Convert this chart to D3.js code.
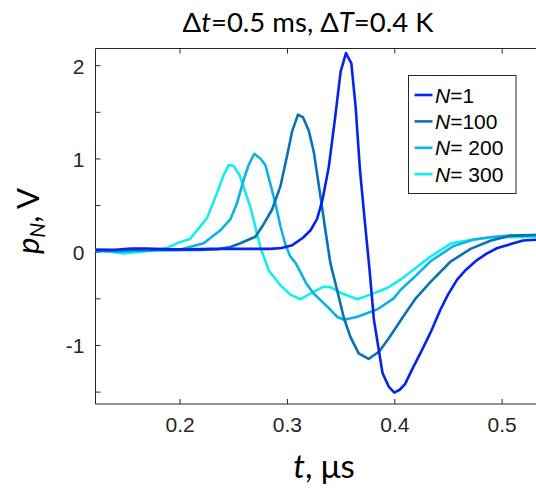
<!DOCTYPE html>
<html><head><meta charset="utf-8">
<script src="https://cdn.jsdelivr.net/npm/d3@7"></script>
<style>body{margin:0;background:#fff;overflow:hidden}</style>
</head><body>
<svg id="c" width="536" height="488"></svg>
<script>
// ---- data ----
const legendLabels = ["1", "100", " 200", " 300"];
const xTicks = [0.2, 0.3, 0.4, 0.5];
const yTicks = [-1.5, -1, -0.5, 0, 0.5, 1, 1.5, 2];
const yTickLabels = ["", "-1", "", "0", "", "1", "", "2"];

const tN1 = [0.12,0.14,0.155,0.17,0.19,0.21,0.23,0.25,0.27,0.285,0.295,0.305,0.315,0.322,0.328,0.333,0.339,0.345,0.350,0.355,0.360,0.364,0.368,0.373,0.377,0.381,0.3855,0.389,0.395,0.400,0.405,0.410,0.418,0.426,0.434,0.443,0.450,0.4585,0.467,0.477,0.486,0.496,0.505,0.511,0.520,0.535];
const vN1 = [0.02,0.02,0.035,0.035,0.025,0.025,0.03,0.03,0.03,0.03,0.04,0.07,0.15,0.23,0.35,0.55,0.91,1.45,1.93,2.13,2.02,1.55,0.88,0.27,-0.2,-0.73,-1.05,-1.30,-1.45,-1.51,-1.48,-1.42,-1.23,-1.05,-0.86,-0.62,-0.46,-0.30,-0.19,-0.09,-0.02,0.04,0.07,0.09,0.12,0.13];

const tN100 = [0.12,0.14,0.16,0.18,0.20,0.22,0.235,0.2474,0.2566,0.2706,0.278,0.2861,0.2939,0.300,0.3048,0.3103,0.315,0.3203,0.325,0.328,0.3318,0.3358,0.3404,0.3467,0.3528,0.359,0.3668,0.376,0.386,0.396,0.408,0.420,0.434,0.452,0.471,0.490,0.508,0.535];
const vN100 = [0.02,0.015,0.02,0.02,0.02,0.02,0.026,0.05,0.09,0.16,0.29,0.45,0.70,1.02,1.29,1.47,1.44,1.30,1.07,0.84,0.55,0.23,-0.12,-0.41,-0.70,-0.91,-1.09,-1.15,-1.07,-0.91,-0.70,-0.50,-0.32,-0.11,0.03,0.12,0.17,0.18];

const tN200 = [0.12,0.14,0.16,0.18,0.20,0.2224,0.238,0.2474,0.2535,0.2597,0.2643,0.2696,0.2752,0.2799,0.2845,0.2892,0.294,0.2985,0.303,0.308,0.318,0.325,0.3404,0.347,0.353,0.365,0.384,0.3995,0.4057,0.418,0.434,0.455,0.474,0.493,0.51,0.535];
const vN200 = [0.01,0.0,0.01,0.015,0.02,0.09,0.23,0.35,0.52,0.77,0.93,1.05,1.0,0.93,0.73,0.52,0.27,0.08,-0.05,-0.12,-0.34,-0.45,-0.62,-0.70,-0.73,-0.70,-0.62,-0.50,-0.41,-0.28,-0.10,0.06,0.13,0.16,0.175,0.18];

const tN300 = [0.12,0.13,0.1476,0.165,0.178,0.188,0.1976,0.21,0.2255,0.2349,0.241,0.2457,0.2503,0.256,0.2659,0.2752,0.283,0.2939,0.3032,0.3125,0.3218,0.334,0.3404,0.3498,0.3653,0.3777,0.3933,0.4057,0.418,0.434,0.453,0.468,0.4896,0.535];
const vN300 = [0.02,0.01,-0.02,0.0,0.02,0.04,0.09,0.14,0.36,0.63,0.82,0.93,0.92,0.82,0.48,0.05,-0.2,-0.36,-0.46,-0.51,-0.45,-0.375,-0.38,-0.44,-0.51,-0.46,-0.39,-0.30,-0.19,-0.05,0.09,0.12,0.155,0.16];

const seriesT = [tN1, tN100, tN200, tN300];
const seriesV = [vN1, vN100, vN200, vN300];
const colors = ["#0623ee", "#0a71b8", "#0bb2e6", "#10eef3"];

// ---- layout ----
const svg = d3.select("#c");
const L = 95.5, R = 537, T = 48.5, B = 404;
const x = d3.scaleLinear().domain([0.1217, 0.5329]).range([L, R]);
const y = d3.scaleLinear().domain([-1.633, 2.179]).range([B, T]);
const ink = "#262626";
const tickFont = "Liberation Sans, Arial, sans-serif";

svg.append("defs").append("clipPath").attr("id", "clip")
  .append("rect").attr("x", L).attr("y", T).attr("width", R - L).attr("height", B - T);

const xAxis = svg.append("g").attr("transform", `translate(0,${B})`)
  .call(d3.axisBottom(x).tickValues(xTicks).tickSize(-5).tickPadding(13).tickFormat(d3.format(".1f")));
const xAxisTop = svg.append("g").attr("transform", `translate(0,${T})`)
  .call(d3.axisTop(x).tickValues(xTicks).tickSize(-5).tickFormat(""));
const yAxis = svg.append("g").attr("transform", `translate(${L},0)`)
  .call(d3.axisLeft(y).tickValues(yTicks).tickSize(-5).tickPadding(11).tickFormat((d, i) => yTickLabels[i]));
[xAxis, xAxisTop, yAxis].forEach(g => {
  g.select(".domain").remove();
  g.selectAll(".tick line").attr("stroke", ink).attr("stroke-width", 1);
  g.selectAll(".tick text").attr("fill", ink).style("font-family", tickFont).style("font-size", "21px");
});
xAxis.selectAll(".tick text").attr("dy", "0.71em");
yAxis.selectAll(".tick text").attr("dy", "0.38em");

svg.append("path").attr("d", `M${R},${T}H${L}V${B}H${R}`)
  .attr("fill", "none").attr("stroke", ink).attr("stroke-width", 1);

const line = d3.line().x(d => x(d[0])).y(d => y(d[1]));
const plot = svg.append("g").attr("clip-path", "url(#clip)");
[3, 2, 1, 0].forEach(i => {
  const pts = seriesT[i].map((t, k) => [t, seriesV[i][k]]);
  plot.append("path").datum(pts).attr("d", line)
    .attr("fill", "none").attr("stroke", colors[i]).attr("stroke-width", 2.6)
    .attr("stroke-linejoin", "round");
});

const lg = svg.append("g");
lg.append("rect").attr("x", 408.5).attr("y", 75.5).attr("width", 107.5).attr("height", 118)
  .attr("fill", "#fff").attr("stroke", ink).attr("stroke-width", 1);
legendLabels.forEach((lab, i) => {
  const cy = 95 + i * 26.4;
  lg.append("line").attr("x1", 414.5).attr("x2", 432.5).attr("y1", cy).attr("y2", cy)
    .attr("stroke", colors[i]).attr("stroke-width", 2.6);
  const tx = lg.append("text").attr("x", 435).attr("y", cy).attr("dy", "0.36em")
    .attr("fill", "#000").style("font-family", tickFont).style("font-size", "21px")
    .attr("xml:space", "preserve");
  tx.append("tspan").style("font-style", "italic").text("N");
  tx.append("tspan").text("=" + lab);
});

const labelFont = "Lato, 'Open Sans', sans-serif";
const title = svg.append("text").attr("x", 308).attr("y", 32).attr("text-anchor", "middle")
  .attr("fill", "#000").style("font-family", labelFont).style("font-size", "27.5px");
title.append("tspan").text("Δ");
title.append("tspan").style("font-style", "italic").text("t");
title.append("tspan").text("=0.5 ms, Δ");
title.append("tspan").style("font-style", "italic").text("T");
title.append("tspan").text("=0.4 K");

const xl = svg.append("text").attr("x", 324).attr("y", 478).attr("text-anchor", "middle")
  .attr("fill", "#000").style("font-family", labelFont).style("font-size", "33px");
xl.append("tspan").style("font-style", "italic").text("t");
xl.append("tspan").text(", μs");

const yl = svg.append("text").attr("transform", "translate(39,221) rotate(-90)").attr("text-anchor", "middle")
  .attr("fill", "#000").style("font-family", labelFont).style("font-size", "31px");
yl.append("tspan").style("font-style", "italic").text("p");
yl.append("tspan").style("font-style", "italic").style("font-size", "21px").attr("dy", "6").text("N");
yl.append("tspan").attr("dy", "-6").text(", V");
</script>
</body></html>
